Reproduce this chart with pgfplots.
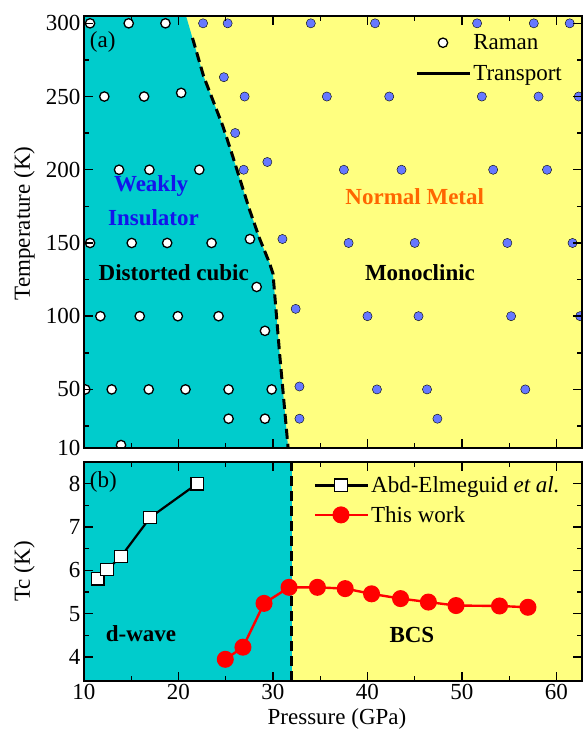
\documentclass[border=0pt]{standalone}
\usepackage{pgfplots}
\pgfplotsset{compat=1.18}
\usepackage{fontspec}
\setmainfont{Liberation Serif}
\definecolor{cy}{RGB}{0,204,204}
\definecolor{yl}{RGB}{255,255,128}
\definecolor{bd}{RGB}{102,120,255}
\definecolor{wb}{RGB}{20,20,235}
\definecolor{nm}{RGB}{255,102,0}
\newcommand{\fs}{\fontsize{23}{26}\selectfont}
\begin{document}
\begin{tikzpicture}
\path[use as bounding box] (0,0) rectangle (583pt,737pt);
\pgfplotsset{
 every axis/.append style={
  scale only axis, width=498pt,
  xmin=10, xmax=62.7,
  tick align=inside, major tick length=9pt, minor tick length=5pt,
  every tick/.style={black, line width=1.4pt},
  axis line style={line width=1.8pt},
  /pgf/number format/assume math mode=true,
  tick label style={font=\fs},
  every axis label/.append style={font=\fs},
  xtick={10,20,...,60}, minor xtick={15,25,...,55},
  clip marker paths=true,
  axis on top,
  legend cell align=left,
  legend image code/.code={\draw[mark repeat=2,mark phase=2,#1] plot coordinates {(0pt,0pt) (26pt,0pt) (53pt,0pt)};},
 }
}
% ---------- top panel (a) ----------
\begin{axis}[at={(84pt,289pt)}, anchor=south west, height=432pt,
 ymin=10, ymax=305, ytick={10,50,100,150,200,250,300}, minor ytick={25,75,...,275},
 xticklabels={},
 axis background/.style={fill=yl},
 ylabel={Temperature (K)},
 ylabel style={at={(axis description cs:-0.12,0.52)}, anchor=center},
 legend style={at={(0.97,0.967)}, anchor=north east, draw=none, fill=none, font=\fs, row sep=10pt},
]
\addplot[fill=cy, draw=none, forget plot] coordinates {(9,5) (31.6,5) (31.6,10) (30.7,74.4) (30.0,129) (29.65,136) (28.6,152.7) (27.5,173) (25.6,212) (24.7,229.7) (22.65,264) (20.8,305) (20.6,310) (9,310)} -- cycle;
\addplot[black, line width=3pt, dash pattern=on 10pt off 5pt, forget plot] coordinates {(21.48,290) (22.65,264) (24.7,229.7) (25.6,212) (27.5,173) (28.6,152.7) (29.65,136) (30.0,129) (30.7,74.4) (31.6,10)};
% blue points (monoclinic)
\addplot[only marks, mark=*, mark size=4.6pt, mark options={fill=bd, draw=none}, forget plot] coordinates {
 (22.6,300) (25.2,300) (34.0,300) (40.8,300) (51.6,300) (57.6,300) (61.4,300)
 (24.8,263.2)
 (27.0,250) (35.7,250) (42.3,250) (52.1,250) (58.1,250) (62.35,250)
 (26.0,225.1)
 (29.4,205.3)
 (26.9,200) (37.5,200) (43.6,200) (53.3,200) (59.0,200)
 (31.0,152.7) (38.0,150) (45.0,150) (54.8,150) (61.7,150)
 (32.4,105) (40.0,100) (45.4,100) (55.2,100) (62.5,100)
 (32.8,52) (41.0,50) (46.3,50) (56.7,50)
 (32.8,30) (47.4,30)
 (41.1,8) (47.6,8)
};
% white points (Raman)
\addplot[only marks, mark=*, mark size=4.7pt, mark options={fill=white, draw=black, line width=1.3pt}] coordinates {
 (10.64,300) (14.73,300) (18.62,300)
 (12.15,250) (16.36,250) (20.28,252.5)
 (13.71,200) (16.92,200) (22.2,200)
 (10.64,150) (15.05,150) (18.8,150) (23.5,150) (27.56,152.7)
 (28.27,120)
 (11.73,100) (15.9,100) (19.93,100) (24.24,100)
 (29.15,90)
 (10.14,50) (12.93,50) (16.85,50) (20.74,50) (25.3,50) (29.86,50)
 (25.3,30) (29.15,30)
 (13.92,12)
};
\addlegendentry{Raman}
\addlegendimage{black, line width=2.6pt}
\addlegendentry{Transport}
\node[anchor=west, font=\fs] at (axis cs:10.25,287) {(a)};
\node[font=\fs\bfseries, text=wb] at (axis cs:17.1,188.6) {Weakly};
\node[font=\fs\bfseries, text=wb] at (axis cs:17.35,167.6) {Insulator};
\node[font=\fs\bfseries, text=nm] at (axis cs:45.0,181.7) {Normal Metal};
\node[font=\fs\bfseries] at (axis cs:19.5,130) {Distorted cubic};
\node[font=\fs\bfseries] at (axis cs:45.55,130) {Monoclinic};
\end{axis}
% ---------- bottom panel (b) ----------
\begin{axis}[at={(84pt,56pt)}, anchor=south west, height=219pt,
 ymin=3.45, ymax=8.5, ytick={4,5,6,7,8}, minor ytick={4.5,5.5,6.5,7.5},
 axis background/.style={fill=yl},
 xlabel={Pressure (GPa)}, ylabel={Tc (K)},
 xlabel style={at={(axis description cs:0.508,-0.175)}, anchor=center},
 ylabel style={at={(axis description cs:-0.12,0.5)}, anchor=center},
 legend style={at={(0.455,0.952)}, anchor=north west, draw=none, fill=none, font=\fs, row sep=8pt},
]
\addplot[fill=cy, draw=none, forget plot] coordinates {(9,3) (32,3) (32,9) (9,9)} -- cycle;
\addplot[black, line width=2.8pt, dash pattern=on 10pt off 5pt, forget plot] coordinates {(32,3.45) (32,8.5)};
\addplot[black, line width=2.2pt, mark=square*, mark size=6.3pt, mark options={fill=white, draw=black, line width=1.3pt, solid}] coordinates {
 (11.44,5.81) (12.44,6.02) (13.92,6.32) (17.0,7.22) (21.98,8.0)
};
\addlegendentry{Abd-Elmeguid \textit{et al.}}
\addplot[red, line width=2.4pt, mark=*, mark size=7.3pt, mark options={fill=red, draw=red}] coordinates {
 (24.95,3.95) (26.82,4.23) (29.05,5.24) (31.7,5.61) (34.7,5.61) (37.64,5.58) (40.43,5.46) (43.5,5.35) (46.44,5.27) (49.37,5.19) (53.97,5.18) (56.98,5.15)
};
\addlegendentry{This work}
\node[anchor=west, font=\fs] at (axis cs:10.25,8.04) {(b)};
\node[font=\fs\bfseries] at (axis cs:16.04,4.54) {d-wave};
\node[font=\fs\bfseries] at (axis cs:44.7,4.5) {BCS};
\end{axis}
\end{tikzpicture}
\end{document}
